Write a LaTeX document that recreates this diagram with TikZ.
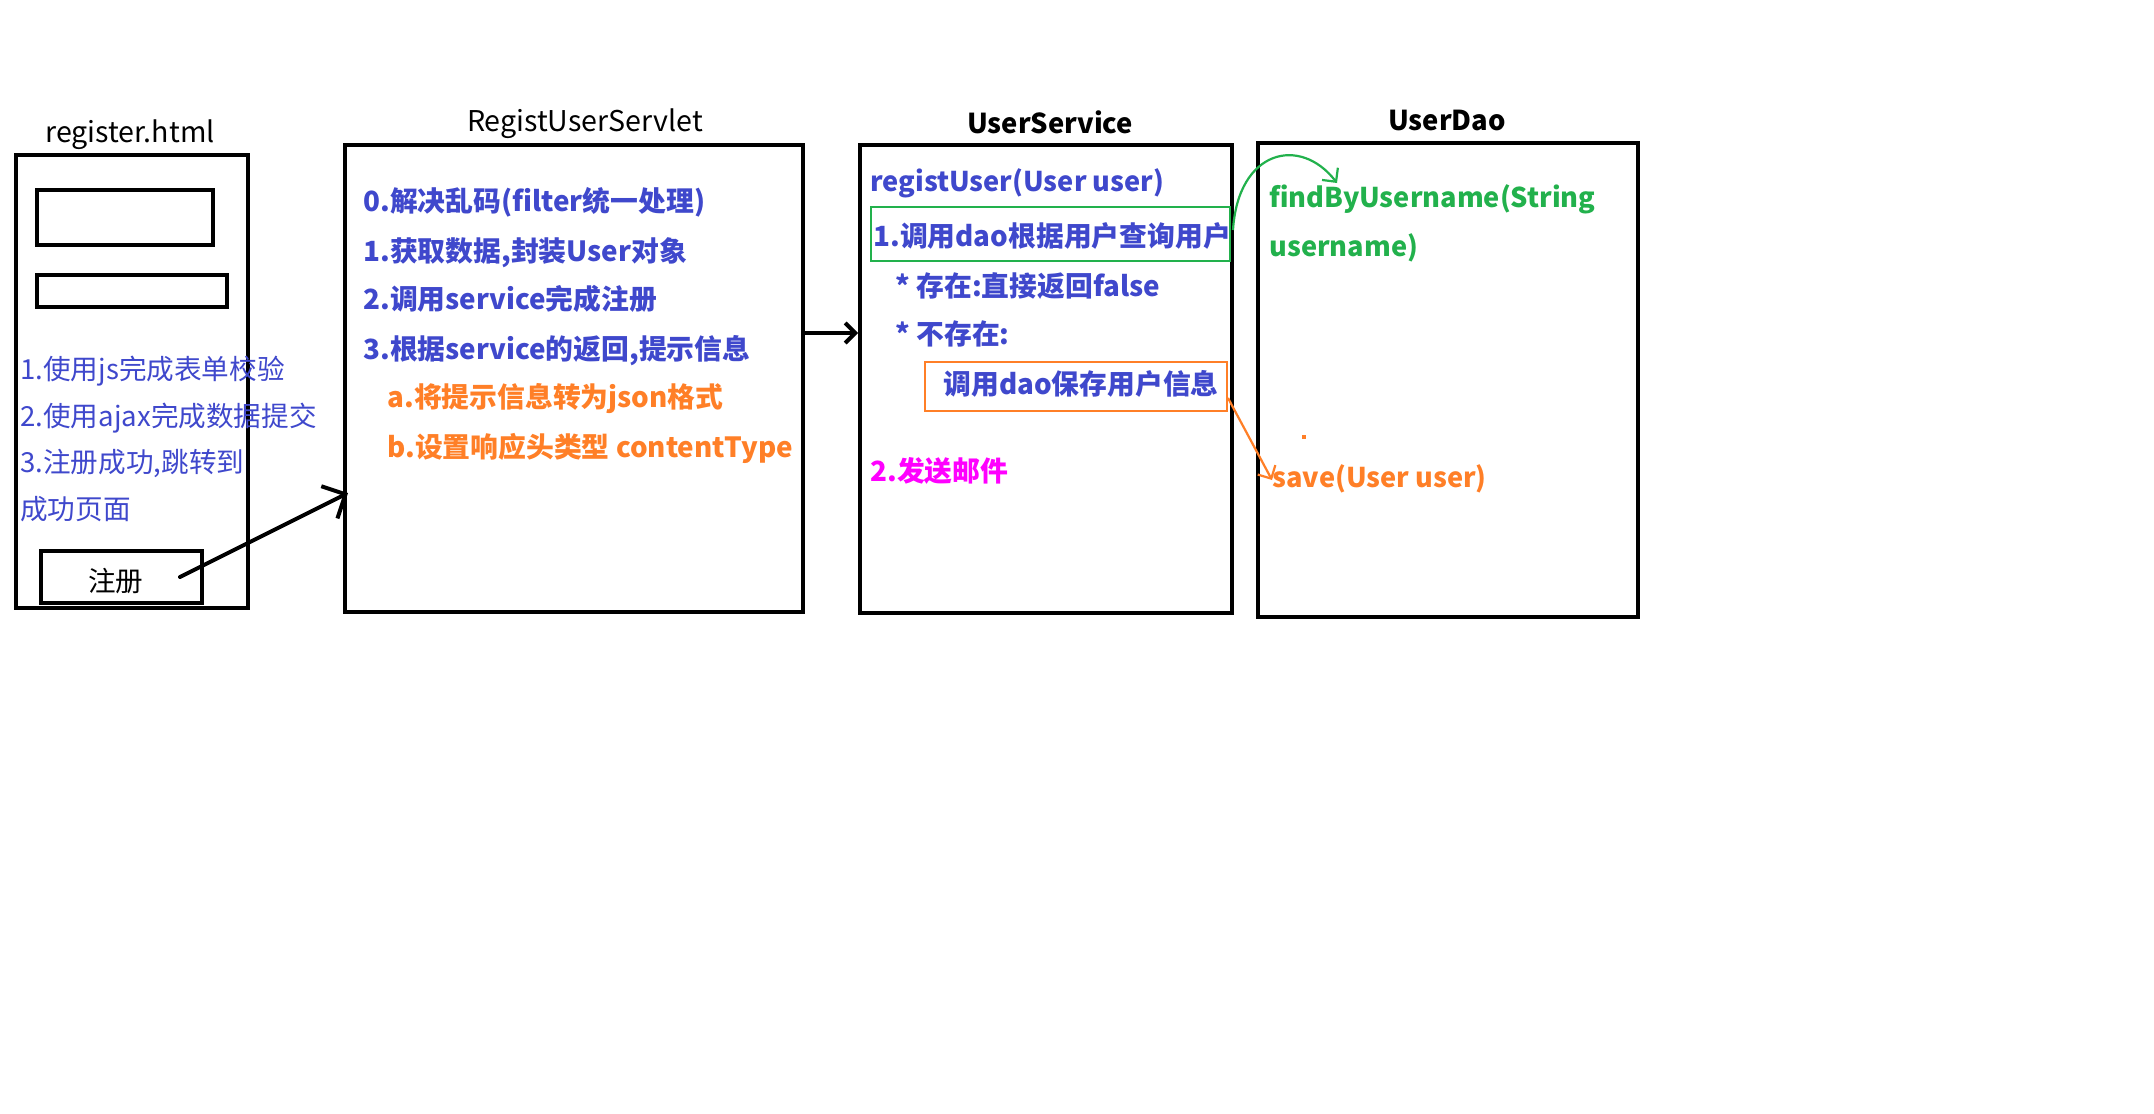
\documentclass[tikz,border=0pt]{standalone}
\usepackage{fontspec}
\setmainfont{Noto Sans CJK SC}
\usetikzlibrary{arrows.meta,fit}
\definecolor{ink}{HTML}{3F48CC}
\definecolor{paintorange}{HTML}{FF7F27}
\definecolor{paintgreen}{HTML}{22B14C}
\definecolor{paintmagenta}{HTML}{FF00FF}

\begin{document}
\begin{tikzpicture}[x=0.5pt,y=-0.5pt,
  frame/.style={draw=black,line width=2pt,inner sep=0pt},
  hibox/.style={draw=#1,line width=1.1pt,inner sep=0pt},
  title/.style={inner sep=0pt,text=black,font=\fontsize{14.3}{17}\selectfont},
  boldtitle/.style={inner sep=0pt,text=black,font=\bfseries\fontsize{13.7}{17}\selectfont},
  note/.style={anchor=west,inner sep=0pt,text height=0.95em,text depth=0em,
    text=ink,font=\fontsize{13.8}{16}\selectfont},
  line/.style={anchor=west,inner sep=0pt,text height=0.95em,text depth=0em,
    text=#1,font=\bfseries\fontsize{13.9}{17}\selectfont},
  latin/.style={line=#1,font=\bfseries\fontsize{13.6}{17}\selectfont},
  flow/.style={draw=black,line width=2pt,line cap=round,
    -{Straight Barb[length=#1,width=2*#1,line width=2pt]}},
  call/.style={draw=#1,line width=1.1pt,
    -{Straight Barb[length=5pt,width=10pt,line width=1.1pt]}}
]
% canvas
\useasboundingbox[fill=white] (0,0) rectangle (2154,1114);

% ---- register.html ----
\node[frame,fit={(16,155) (248,608)}] (reg) {};
\node[title] (regt) at (130,135) {register.html};
\node[frame,fit={(37,190) (213,245)}] (field1) {};
\node[frame,fit={(37,275) (227,307)}] (field2) {};
\node[note] (r1) at (20,370) {1.使用js完成表单校验};
\node[note] (r2) at (20,417) {2.使用ajax完成数据提交};
\node[note] (r3) at (20,463) {3.注册成功,跳转到};
\node[note] (r4) at (20,510) {成功页面};
\node[frame,fit={(41,551) (202,603)}] (btn) {};
\node[inner sep=0pt,font=\fontsize{13.8}{16}\selectfont] (btnt) at (116,581) {注册};

% ---- RegistUserServlet ----
\node[frame,fit={(345,145) (803,612)}] (servlet) {};
\node[title] (servt) at (585,124) {RegistUserServlet};
\node[line=ink] (s0) at (363,202) {0.解决乱码(filter统一处理)};
\node[line=ink] (s1) at (363,252) {1.获取数据,封装User对象};
\node[line=ink] (s2) at (363,300) {2.调用service完成注册};
\node[line=ink] (s3) at (363,350) {3.根据service的返回,提示信息};
\node[line=paintorange] (s3a) at (387,398) {a.将提示信息转为json格式};
\node[line=paintorange] (s3b) at (387,448) {b.设置响应头类型 contentType};

% ---- UserService ----
\node[frame,fit={(860,145) (1232,613)}] (svc) {};
\node[boldtitle] (svct) at (1050,122) {UserService};
\node[latin=ink] (m0) at (870,182) {registUser(User user)};
\node[hibox=paintgreen,fit={(871,207) (1230,261)}] (findbox) {};
\node[line=ink] (m1) at (873,237) {1.调用dao根据用户查询用户};
\node[line=ink] (m1a) at (895,287) {* 存在:直接返回false};
\node[line=ink] (m1b) at (895,335) {* 不存在:};
\node[hibox=paintorange,fit={(925,362) (1227,411)}] (savebox) {};
\node[line=ink] (m1c) at (943,385) {调用dao保存用户信息};
\node[line=paintmagenta] (m2) at (870,472) {2.发送邮件};

% ---- UserDao ----
\node[frame,fit={(1258,143) (1638,617)}] (dao) {};
\node[boldtitle] (daot) at (1447,120) {UserDao};
\node[latin=paintgreen] (d1) at (1269,198) {findByUsername(String};
\node[latin=paintgreen] (d1b) at (1269,247) {username)};
\node[latin=paintorange] (d2) at (1272,478) {save(User user)};
\fill[paintorange] (1302,435) rectangle (1306,439);

% ---- connectors ----
\coordinate (clickfrom) at (180,577);
\coordinate (postto) at (348,493);
\draw[flow=9pt] (clickfrom) -- (postto);

\coordinate (callfrom) at (803,333);
\draw[flow=5pt] (callfrom) -- (svc.west |- callfrom);

\coordinate (findfrom) at (1233,230);
\coordinate (findto) at (1337,183);
\draw[call=paintgreen] (findfrom) .. controls (1238,150) and (1300,135) .. (findto);

\coordinate (savefrom) at (1228,398);
\coordinate (saveto) at (1272,480);
\draw[call=paintorange] (savefrom) -- (saveto);
\end{tikzpicture}
\end{document}
